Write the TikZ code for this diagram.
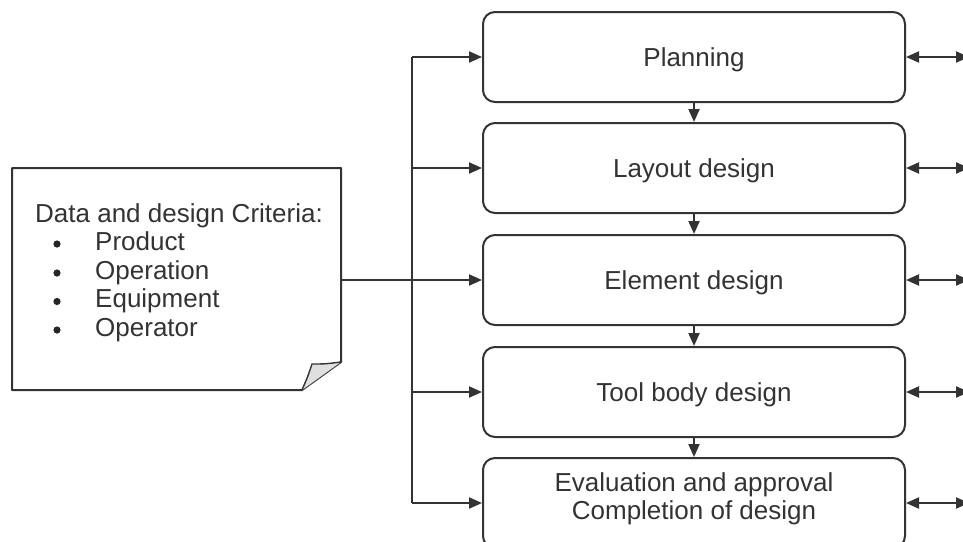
\documentclass[tikz,border=0pt]{standalone}
\usepackage{fontspec}
\setmainfont{Liberation Sans}
\usetikzlibrary{arrows.meta}
\begin{document}
\begin{tikzpicture}[x=1pt,y=-1pt,
  line/.style={draw=black!80,line width=2pt},
  flowbox/.style={line, rounded corners=12pt, minimum width=422pt, minimum height=90pt, inner sep=0pt},
  lbl/.style={font=\fontsize{26}{28}\selectfont, text=black!80, inner sep=0pt},
  boxlbl/.style={lbl, text height=18.6pt, text depth=0pt},
  arr/.style={line, -{Triangle[length=13pt,width=11pt]}},
  darr/.style={line, {Triangle[length=13pt,width=11pt]}-{Triangle[length=13pt,width=11pt]}}]
\useasboundingbox (0,0) rectangle (963,541);

% note shape
\draw[line, fill=white, line join=round] (12,168) -- (341,168) -- (341,362) -- (302,390) -- (12,390) -- cycle;
\draw[line, fill=gray!25, line width=1.4pt, line join=round] (341,362) .. controls (325,364) .. (312,364) .. controls (308,376) .. (302,390);
\node[lbl, anchor=base west] (nt) at (35,222) {Data and design Criteria:};
\node[lbl, anchor=base west] (n1) at (95,250.5) {Product};
\node[lbl, anchor=base west] (n2) at (95,279) {Operation};
\node[lbl, anchor=base west] (n3) at (95,307.5) {Equipment};
\node[lbl, anchor=base west] (n4) at (95,336) {Operator};
\fill[black!85] (57,244) circle (3.6pt) (57,273) circle (3.6pt) (57,301.5) circle (3.6pt) (57,330) circle (3.6pt);
\coordinate (nE) at (341,280);

% boxes
\node[flowbox] (p1) at (694,57) {};
\node[flowbox] (p2) at (694,168) {};
\node[flowbox] (p3) at (694,280) {};
\node[flowbox] (p4) at (694,392) {};
\node[flowbox] (p5) at (694,503) {};

\node[boxlbl] (t1) at (p1) {Planning};
\node[boxlbl] (t2) at (p2) {Layout design};
\node[boxlbl] (t3) at (p3) {Element design};
\node[boxlbl] (t4) at (p4) {Tool body design};
\node[lbl, anchor=base] (t5a) at (694,491) {Evaluation and approval};
\node[lbl, anchor=base] (t5b) at (694,519) {Completion of design};

% down arrows
\draw[arr] (p1.south) -- (p2.north);
\draw[arr] (p2.south) -- (p3.north);
\draw[arr] (p3.south) -- (p4.north);
\draw[arr] (p4.south) -- (p5.north);

% left trunk
\coordinate (j1) at (412,57);
\coordinate (j2) at (412,168);
\coordinate (j3) at (412,280);
\coordinate (j4) at (412,392);
\coordinate (j5) at (412,503);
\draw[line] (j1) -- (j5);
\draw[line] (nE) -- (j3);
\foreach \i in {1,...,5} {\draw[arr] (j\i) -- (p\i.west);}

% right double arrows
\foreach \i/\y in {1/57,2/168,3/280,4/392,5/503} {
  \coordinate (r\i) at (969,\y);
  \draw[darr] (p\i.east) -- (r\i);
}
\end{tikzpicture}
\end{document}
